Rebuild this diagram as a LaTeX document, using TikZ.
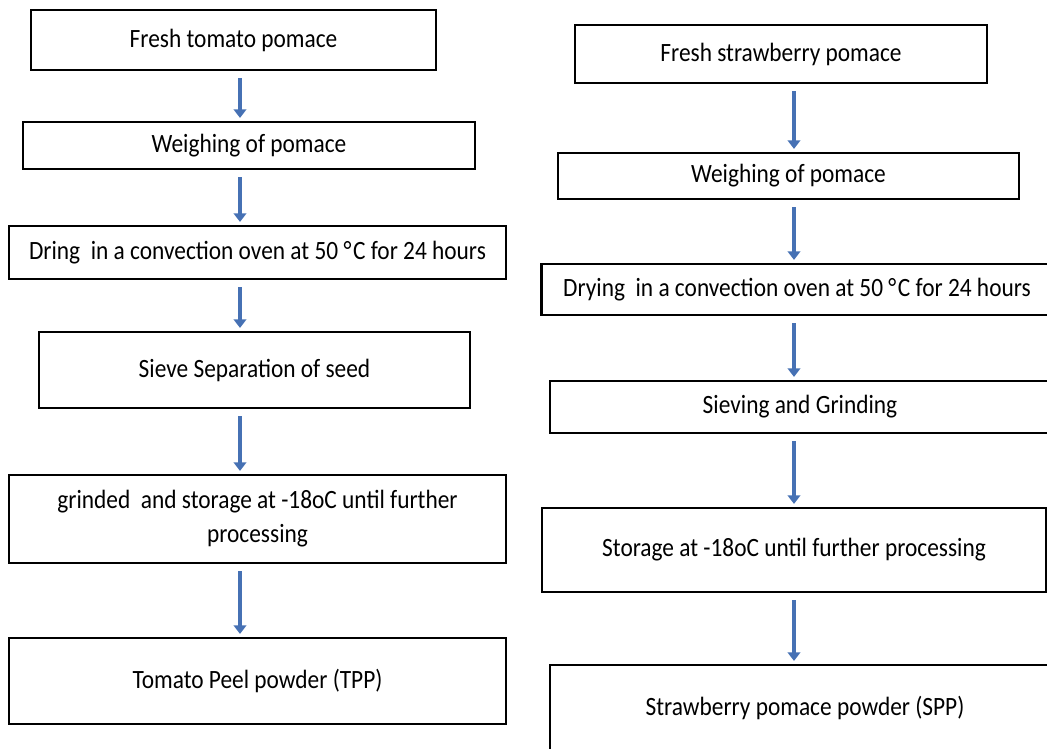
\documentclass[tikz,border=0pt]{standalone}
\usepackage{fontspec}
\setmainfont{Carlito}
\newfontfamily\stagefont{Carlito}[FakeStretch=0.885]
\usepackage{xcolor}
\definecolor{flowblue}{RGB}{70,113,180}
\usepackage{tikz}
\usetikzlibrary{arrows.meta}

\begin{document}
\begin{tikzpicture}[
    x=0.75pt, y=-0.75pt,
    stage/.style 2 args={draw=black, line width=2.1pt, inner sep=0pt,
      align=center, minimum width=#1*0.75pt, minimum height=#2*0.75pt,
      font=\stagefont\fontsize{19.8}{25.5}\selectfont},
    flow/.style={color=flowblue, line width=3.6pt,
      -{Triangle[width=9.5pt,length=6.5pt]}, shorten <=5pt, shorten >=2pt}
  ]
  \useasboundingbox (0,0) rectangle (1047,749);
  \clip (0,0) rectangle (1047,749);
  \coordinate (lcol) at (240,0);
  \coordinate (rcol) at (794,0);

  % tomato pomace
  \node[stage={405}{60}]  (tom1) at (233.5,40)  {Fresh tomato pomace};
  \node[stage={452}{47}]  (tom2) at (249,145.5) {Weighing of pomace};
  \node[stage={497}{53}]  (tom3) at (257.5,252.5)
    {Dring\ \ in a convection oven at 50 °\kern1.2pt C for 24 hours};
  \node[stage={431}{76}]  (tom4) at (254.5,370) {Sieve Separation of seed};
  \node[stage={497}{88}]  (tom5) at (257.5,519)
    {grinded\ \ and storage at -18oC until further\\processing};
  \node[stage={497}{86}]  (tom6) at (257.5,681) {Tomato Peel powder (TPP)};

  % strawberry pomace
  \node[stage={412}{58}]  (str1) at (781,54)    {Fresh strawberry pomace};
  \node[stage={461}{46}]  (str2) at (788.5,176) {Weighing of pomace};
  \node[stage={511}{51}]  (str3) at (797,289.5)
    {Drying\ \ in a convection oven at 50 °\kern1.2pt C for 24 hours};
  \node[stage={500}{52}]  (str4) at (800,407)   {Sieving and Grinding};
  \node[stage={504}{84}]  (str5) at (794,550)
    {Storage at -18oC until further processing};
  \node[stage={510}{86}]  (str6) at (805,708)   {Strawberry pomace powder (SPP)};

  \path[flow]
    (tom1.south -| lcol) edge (tom2.north -| lcol)
    (tom2.south -| lcol) edge (tom3.north -| lcol)
    (tom3.south -| lcol) edge (tom4.north -| lcol)
    (tom4.south -| lcol) edge (tom5.north -| lcol)
    (tom5.south -| lcol) edge (tom6.north -| lcol)
    (str1.south -| rcol) edge (str2.north -| rcol)
    (str2.south -| rcol) edge (str3.north -| rcol)
    (str3.south -| rcol) edge (str4.north -| rcol)
    (str4.south -| rcol) edge (str5.north -| rcol)
    (str5.south -| rcol) edge (str6.north -| rcol)
    ;
\end{tikzpicture}
\end{document}
